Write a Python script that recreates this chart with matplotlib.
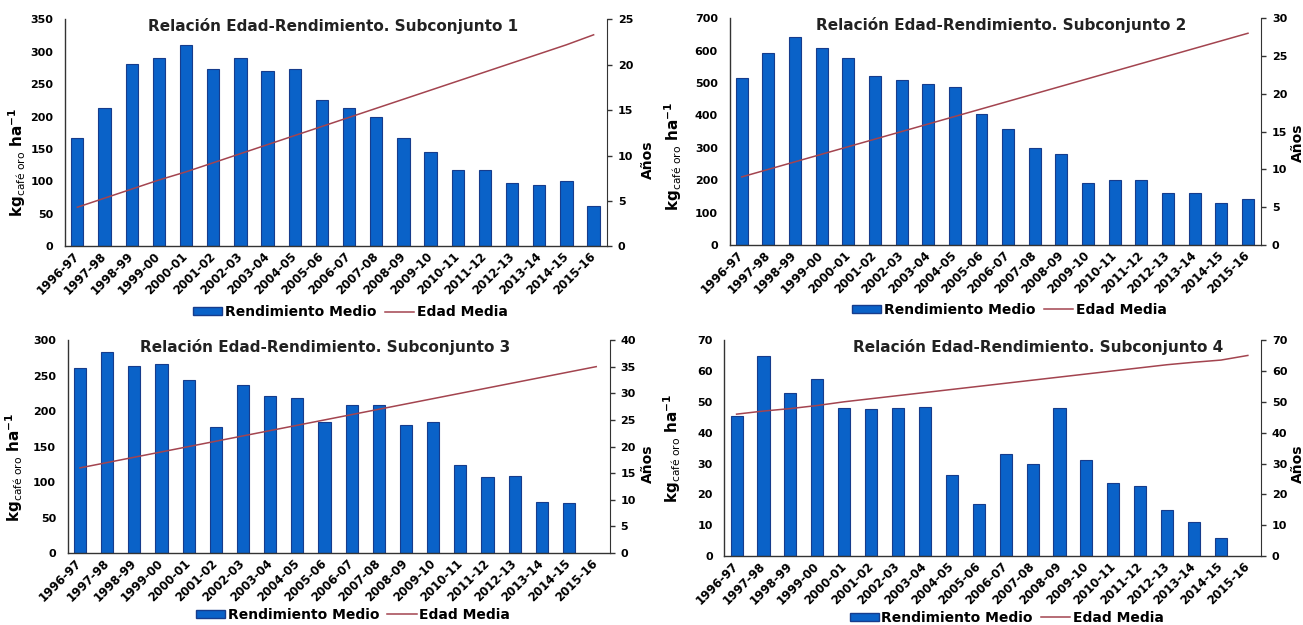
import matplotlib
matplotlib.use("Agg")
import matplotlib.pyplot as plt
import numpy as np
from matplotlib.patches import Patch
from matplotlib.lines import Line2D

plt.rcParams['font.family'] = ['DejaVu Sans']

campanas = ["1996-97", "1997-98", "1998-99", "1999-00", "2000-01", "2001-02", "2002-03",
            "2003-04", "2004-05", "2005-06", "2006-07", "2007-08", "2008-09", "2009-10",
            "2010-11", "2011-12", "2012-13", "2013-14", "2014-15", "2015-16"]

rend_1 = [167, 213, 281, 291, 311, 273, 291, 271, 273, 225, 213, 200, 167, 145, 117, 118, 97, 95, 100, 62]
edad_1 = [4.3, 5.3, 6.3, 7.3, 8.2, 9.2, 10.2, 11.2, 12.2, 13.2, 14.2, 15.2, 16.2, 17.2, 18.2, 19.2, 20.2, 21.2, 22.2, 23.3]

rend_2 = [515, 592, 642, 608, 578, 522, 510, 496, 489, 405, 358, 300, 280, 190, 200, 202, 160, 160, 130, 143]
edad_2 = [9.0, 10.0, 11.0, 12.0, 13.0, 14.0, 15.0, 16.0, 17.0, 18.0, 19.0, 20.0, 21.0, 22.0, 23.0, 24.0, 25.0, 26.0, 27.0, 28.0]

rend_3 = [260, 283, 263, 266, 244, 178, 236, 221, 218, 185, 209, 209, 181, 185, 124, 107, 108, 72, 71, np.nan]
edad_3 = [16.0, 17.0, 18.0, 19.0, 20.0, 21.0, 22.0, 23.0, 24.0, 25.0, 26.0, 27.0, 28.0, 29.0, 30.0, 31.0, 32.0, 33.0, 34.0, 35.0]

rend_4 = [45.5, 64.8, 52.8, 57.3, 48.0, 47.6, 48.0, 48.3, 26.3, 17.0, 33.0, 30.0, 48.0, 31.3, 23.6, 22.9, 15.0, 11.0, 5.8, np.nan]
edad_4 = [46.0, 47.0, 47.8, 48.8, 50.0, 51.0, 52.0, 53.0, 54.0, 55.0, 56.0, 57.0, 58.0, 59.0, 60.0, 61.0, 62.0, 62.8, 63.5, 65.0]

titles = ["Relación Edad-Rendimiento. Subconjunto 1", "Relación Edad-Rendimiento. Subconjunto 2",
          "Relación Edad-Rendimiento. Subconjunto 3", "Relación Edad-Rendimiento. Subconjunto 4"]

# (bars, line, ymax, ystep, y2max, y2step, rect, title_x, ylab_xy, y2lab_xy, legend_y)
panels = [
    (rend_1, edad_1, 350, 50, 25, 5, [0.050, 0.606, 0.416, 0.363], 0.494, (-0.068, 0.37), (1.063, 0.38), -0.29),
    (rend_2, edad_2, 700, 100, 30, 5, [0.560, 0.608, 0.408, 0.363], 0.51, (-0.086, 0.39), (1.055, 0.45), -0.285),
    (rend_3, edad_3, 300, 50, 40, 5, [0.052, 0.115, 0.416, 0.341], 0.474, (-0.079, 0.40), (1.057, 0.42), -0.29),
    (rend_4, edad_4, 70, 10, 70, 10, [0.556, 0.110, 0.412, 0.346], 0.585, (-0.078, 0.50), (1.055, 0.43), -0.285),
]

bar_color = "#0A62C8"
edge_color = "#163C8C"
line_color = "#A3444F"
axis_color = "#333333"

fig = plt.figure(figsize=(13.03, 6.25), dpi=100)

for i, (rend, edad, ymax, ystep, y2max, y2step, rect, tx, ylxy, y2lxy, ly) in enumerate(panels):
    ax = fig.add_axes(rect)
    x = np.arange(len(campanas))
    ax.bar(x, rend, width=0.45, color=bar_color, edgecolor=edge_color, linewidth=0.8, zorder=2)
    ax.set_xlim(-0.45, len(campanas) - 0.5)
    ax.set_ylim(0, ymax)
    ax.set_yticks(np.arange(0, ymax + 1, ystep))
    ax.set_xticks(x)
    ax.set_xticklabels(campanas, rotation=45, ha='right', va='center', rotation_mode='anchor',
                       fontsize=8.5, fontweight='bold')
    ax.tick_params(axis='x', length=0, pad=6)
    ax.tick_params(axis='y', length=0, labelsize=8, pad=8.5)
    for lab in ax.get_yticklabels():
        lab.set_fontweight('bold')
    ax.spines['top'].set_visible(False)
    ax.spines['right'].set_visible(False)
    for s in ['left', 'bottom']:
        ax.spines[s].set_color(axis_color)
        ax.spines[s].set_linewidth(1.0)
    ax.set_ylabel(r'$\mathbf{kg}_{\mathrm{café\ oro}}\ \mathbf{ha}^{\mathbf{-1}}$', fontsize=11)
    ax.yaxis.set_label_coords(*ylxy)
    ax.text(tx, 1.005, titles[i], transform=ax.transAxes, ha='center', va='top',
            fontsize=11, fontweight='bold', color='#222222')

    ax2 = ax.twinx()
    ax2.plot(x, edad, color=line_color, linewidth=1.1, zorder=3)
    ax2.set_ylim(0, y2max)
    ax2.set_yticks(np.arange(0, y2max + 1, y2step))
    ax2.tick_params(axis='y', length=3.6, width=1.0, labelsize=8, pad=4, color=axis_color)
    for lab in ax2.get_yticklabels():
        lab.set_fontweight('bold')
    ax2.spines['top'].set_visible(False)
    ax2.spines['left'].set_visible(False)
    ax2.spines['bottom'].set_visible(False)
    ax2.spines['right'].set_color(axis_color)
    ax2.set_ylabel('Años', fontsize=10, fontweight='bold')
    ax2.yaxis.set_label_coords(*y2lxy)

    handles = [Patch(facecolor=bar_color, edgecolor=edge_color, label='Rendimiento Medio'),
               Line2D([0], [0], color=line_color, linewidth=1.1, label='Edad Media')]
    ax.legend(handles=handles, loc='center', bbox_to_anchor=(0.526, ly), ncol=2,
              frameon=False, handlelength=2.1, handleheight=0.5,
              columnspacing=0.6, handletextpad=0.2, borderaxespad=0,
              prop={'size': 10, 'weight': 'bold'})

fig.savefig("out.png", dpi=100)
